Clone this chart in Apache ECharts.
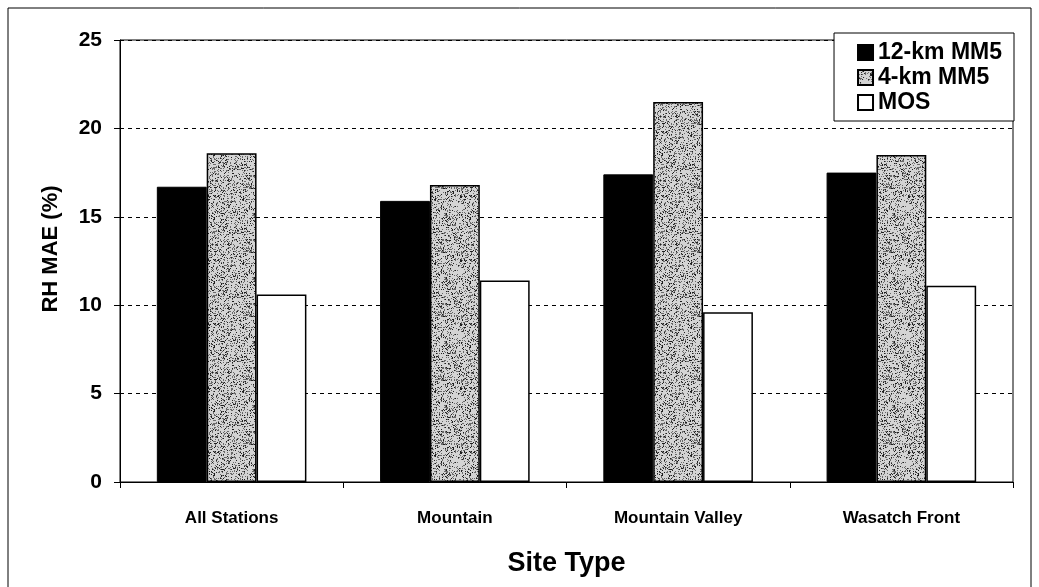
<!DOCTYPE html>
<html>
<head>
<meta charset="utf-8">
<script src="https://cdn.jsdelivr.net/npm/echarts@6/dist/echarts.min.js"></script>
<style>
  html, body { margin: 0; padding: 0; background: #fff; }
  #chart { width: 1039px; height: 587px; }
</style>
</head>
<body>
<div id="chart"></div>
<script>
// site types and RH mean absolute error (%) per model
const siteTypes = ['All Stations', 'Mountain', 'Mountain Valley', 'Wasatch Front']
const mm5_12km = [16.7, 15.9, 17.4, 17.5]
const mm5_4km = [18.6, 16.8, 21.5, 18.5]
const mos = [10.6, 11.4, 9.6, 11.1]

// stippled gray fill like the scanned original (fixed seed, styling only)
function stipple() {
  const c = document.createElement('canvas')
  c.width = 64
  c.height = 64
  const ctx = c.getContext('2d')
  ctx.fillStyle = '#d4d4d4'
  ctx.fillRect(0, 0, 64, 64)
  let s = 12345
  const next = () => { s = (s * 16807) % 2147483647; return s }
  for (let i = 0; i < 1300; i++) {
    const x = next() % 64
    const y = next() % 64
    ctx.fillStyle = (i % 3 === 0) ? '#1e1e1e' : '#6a6a6a'
    ctx.fillRect(x, y, 1, 1)
  }
  return c
}

const font = 'Liberation Sans, Arial, sans-serif'
const chart = echarts.init(document.getElementById('chart'))
chart.setOption({
  animation: false,
  backgroundColor: '#fff',
  graphic: [{
    type: 'rect',
    shape: { x: 8, y: 8, width: 1023, height: 600 },
    style: { fill: 'none', stroke: '#000', lineWidth: 1 }
  }],
  grid: {
    left: 120, right: 26, top: 40, bottom: 105,
    show: true, borderColor: '#000', borderWidth: 1
  },
  legend: {
    right: 25, top: 33,
    orient: 'vertical',
    backgroundColor: '#fff',
    borderColor: '#000', borderWidth: 1,
    padding: [8, 12, 7, 23],
    itemGap: 2,
    itemWidth: 15, itemHeight: 15,
    icon: 'rect',
    textStyle: { fontFamily: font, fontWeight: 'bold', fontSize: 23, color: '#000' }
  },
  xAxis: {
    type: 'category',
    data: siteTypes,
    name: 'Site Type',
    nameLocation: 'middle',
    nameGap: 68,
    nameTextStyle: { fontFamily: font, fontWeight: 'bold', fontSize: 27, color: '#000' },
    axisLine: { lineStyle: { color: '#000', width: 1 } },
    axisTick: { show: true, length: 6, lineStyle: { color: '#000' } },
    axisLabel: { fontFamily: font, fontWeight: 'bold', fontSize: 17, color: '#000', margin: 28 }
  },
  yAxis: {
    type: 'value',
    min: 0, max: 25, interval: 5,
    name: 'RH MAE (%)',
    nameLocation: 'middle',
    nameGap: 58,
    nameTextStyle: { fontFamily: font, fontWeight: 'bold', fontSize: 22, color: '#000', padding: [0, 0, 0, 24] },
    axisLine: { show: true, lineStyle: { color: '#000', width: 1 } },
    axisTick: { show: true, length: 6, lineStyle: { color: '#000' } },
    axisLabel: { fontFamily: font, fontWeight: 'bold', fontSize: 21, color: '#000', margin: 18 },
    splitLine: { lineStyle: { color: '#000', type: [4, 4], width: 1 } }
  },
  series: [
    {
      name: '12-km MM5', type: 'bar', data: mm5_12km,
      barGap: 0, barCategoryGap: '33%',
      itemStyle: { color: '#000', borderColor: '#000', borderWidth: 1 }
    },
    {
      name: '4-km MM5', type: 'bar', data: mm5_4km,
      itemStyle: { color: { image: stipple(), repeat: 'repeat' }, borderColor: '#000', borderWidth: 1.5 }
    },
    {
      name: 'MOS', type: 'bar', data: mos,
      itemStyle: { color: '#fff', borderColor: '#000', borderWidth: 1.5 }
    }
  ]
})
</script>
</body>
</html>
